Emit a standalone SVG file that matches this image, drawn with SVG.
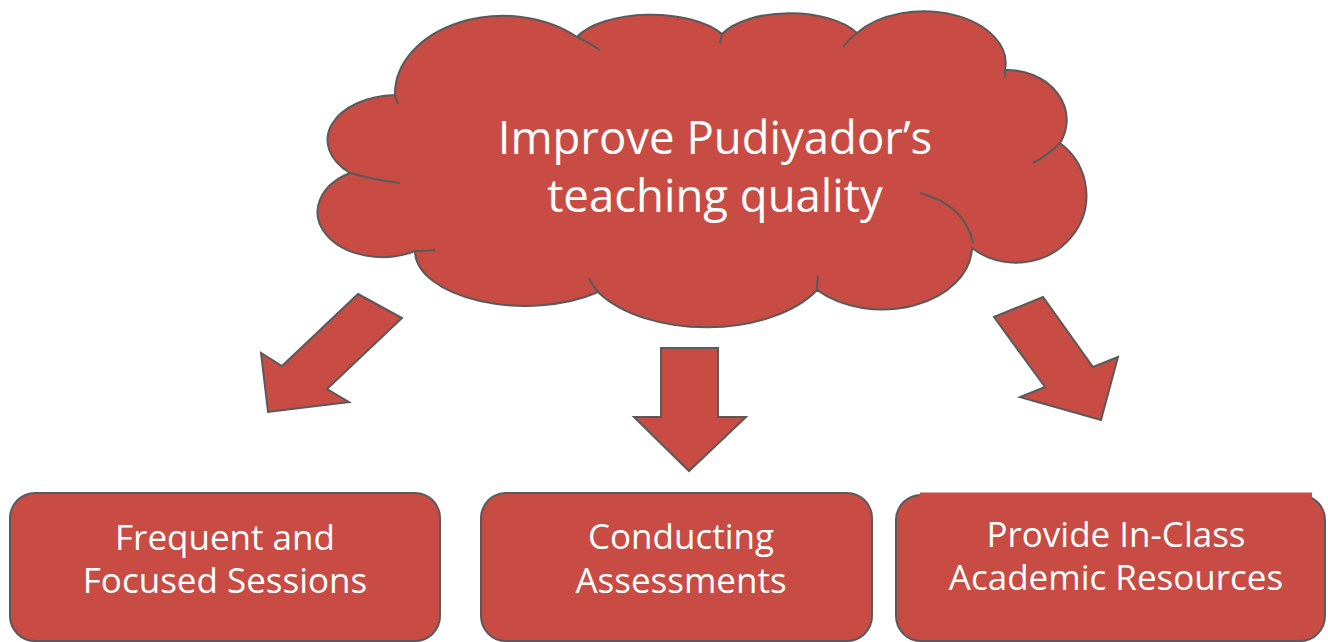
<svg xmlns="http://www.w3.org/2000/svg" width="1328" height="642" viewBox="0 0 1328 642">
  <style>
    .shape { fill: #c84c44; stroke: #5a5a5a; stroke-width: 2; stroke-linejoin: miter; }
    .seam { fill: none; stroke: #5a5a5a; stroke-width: 2; stroke-linecap: butt; }
    .label { font-family: "Open Sans", "Noto Sans", "Liberation Sans", sans-serif; fill: #ffffff; text-anchor: middle; }
    .title { font-size: 45.5px; }
    .item { font-size: 35px; }
  </style>
  <rect width="1328" height="642" fill="#ffffff"/>

  <!-- central goal cloud -->
  <g id="goal">
    <path class="shape" d="M395,95
      A108 78 0 0 1 577,37
      A80 36 0 0 1 722,34
      A75 36 0 0 1 857,33
      A82 52 0 0 1 1005,70
      A60 50 0 0 1 1060,143
      A65 62 0 0 1 972,248
      A90 63 0 0 1 817,290
      A125 70 0 0 1 598,292
      A110 55 0 0 1 415,251
      A62 43 0 0 1 350,173
      A70 45 0 0 1 395,95 Z"/>
    <path class="seam" d="M350,173 Q375,180 400,183"/>
    <path class="seam" d="M395,95 Q396,100 398,104"/>
    <path class="seam" d="M577,37 Q590,43 600,50"/>
    <path class="seam" d="M722,34 Q721,39 720,43"/>
    <path class="seam" d="M857,33 Q849,39 843,47"/>
    <path class="seam" d="M1005,70 Q1005,74 1005,78"/>
    <path class="seam" d="M1060,143 Q1048,155 1033,163"/>
    <path class="seam" d="M920,193 Q965,205 973,243"/>
    <path class="seam" d="M817,290 Q817,282 818,275"/>
    <path class="seam" d="M598,292 Q592,285 589,278"/>
    <path class="seam" d="M415,251 Q425,251 435,250"/>
    <text class="label title" x="715" y="154">Improve Pudiyador’s</text>
    <text class="label title" x="715" y="212">teaching quality</text>
  </g>

  <!-- block arrows leading to each action -->
  <g id="connectors">
    <polygon class="shape" points="358,294 402,318 327,389 349,402 268,412 261,353 282,366"/>
    <polygon class="shape" points="661,348 718,348 718,417 746,417 689,471 634,417 661,417"/>
    <polygon class="shape" points="994,317 1043,297 1093,367 1118,357 1101,420 1020,397 1045,387"/>
  </g>

  <g id="sessions">
    <rect class="shape" x="10" y="493" width="430" height="148" rx="25" ry="25"/>
    <text class="label item" x="225" y="550">Frequent and</text>
    <text class="label item" x="225" y="593">Focused Sessions</text>
  </g>

  <g id="assessments">
    <rect class="shape" x="481" y="493" width="391" height="148" rx="25" ry="25"/>
    <text class="label item" x="681" y="549">Conducting</text>
    <text class="label item" x="681" y="593">Assessments</text>
  </g>

  <g id="resources">
    <rect class="shape" x="896" y="495" width="429" height="146" rx="25" ry="25"/>
    <rect x="920" y="492.5" width="392" height="6" fill="#c84c44"/>
    <text class="label item" x="1116" y="547">Provide In-Class</text>
    <text class="label item" x="1116" y="590">Academic Resources</text>
  </g>
</svg>
